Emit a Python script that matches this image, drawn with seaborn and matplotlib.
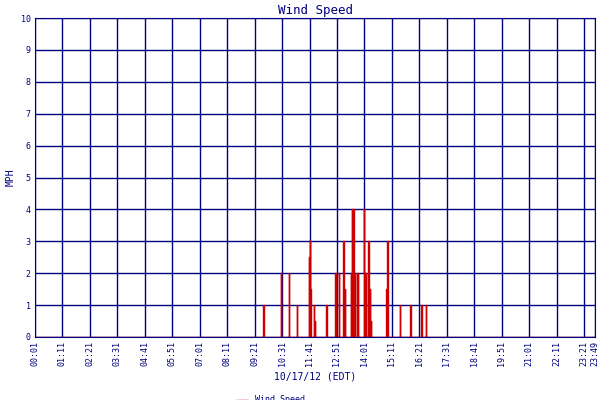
import matplotlib
matplotlib.use("Agg")
import matplotlib.pyplot as plt
import seaborn as sns
import pandas as pd

# spike times (minutes after midnight) and wind speeds (MPH)
spike_min = [583, 585, 628, 648, 668, 699, 701, 703, 712, 714, 744, 765, 767, 776, 787,
             789, 791, 806, 809, 813, 815, 822, 824, 839, 841, 844, 849, 851, 854, 857,
             897, 899, 931, 958, 986, 998]
spike_mph = [1, 0.5, 2, 2, 1, 2.5, 3, 1.5, 1, 0.5, 1, 2, 2, 2, 3,
             1.5, 1.5, 2, 4, 4, 2, 2, 2, 4, 2, 2, 2, 3, 1.5, 0.5,
             1.5, 3, 1, 1, 1, 1]
tick_min = [1, 71, 141, 211, 281, 351, 421, 491, 561, 631, 701, 771, 841, 911,
            981, 1051, 1121, 1191, 1261, 1331, 1401, 1429]
tick_lab = ["00:01", "01:11", "02:21", "03:31", "04:41", "05:51", "07:01", "08:11",
            "09:21", "10:31", "11:41", "12:51", "14:01", "15:11", "16:21", "17:31",
            "18:41", "19:51", "21:01", "22:11", "23:21", "23:49"]

# build step series: baseline zero, spike of one minute width
t, v = [1], [0]
for m, s in zip(spike_min, spike_mph):
    t += [m, m, m + 1, m + 1]
    v += [0, s, s, 0]
t.append(1429); v.append(0)
df = pd.DataFrame({"t": t, "mph": v})

sns.set_style("white")
plt.rcParams["font.family"] = ["DejaVu Sans Mono"]
navy = "#000080"
fig = plt.figure(figsize=(6, 4), dpi=100)
ax = fig.add_axes([35/600, 1-337/400, 560/600, 319/400])
sns.lineplot(data=df, x="t", y="mph", ax=ax, color="#cc0000", lw=1.0,
             sort=False, estimator=None, label="Wind Speed")
ax.set_xlim(1, 1429)
ax.set_ylim(0, 10)
ax.set_xticks(tick_min)
ax.set_xticklabels(tick_lab, rotation=90, fontsize=6, color=navy)
ax.set_yticks(range(11))
ax.set_yticklabels([str(i) for i in range(11)], fontsize=6, color=navy)
ax.grid(True, color=navy, lw=1)
for s in ax.spines.values():
    s.set_color(navy)
ax.tick_params(length=0, pad=3)
ax.set_title("Wind Speed", color=navy, fontsize=9, pad=3)
ax.set_ylabel("MPH", color=navy, fontsize=7)
ax.set_xlabel("10/17/12 (EDT)", color=navy, fontsize=7, labelpad=4)
ax.legend(loc="upper center", bbox_to_anchor=(0.42, -0.165), frameon=False,
          fontsize=6, handlelength=1.5, labelcolor=navy, borderpad=0.2)
fig.savefig("out.png", dpi=100)
